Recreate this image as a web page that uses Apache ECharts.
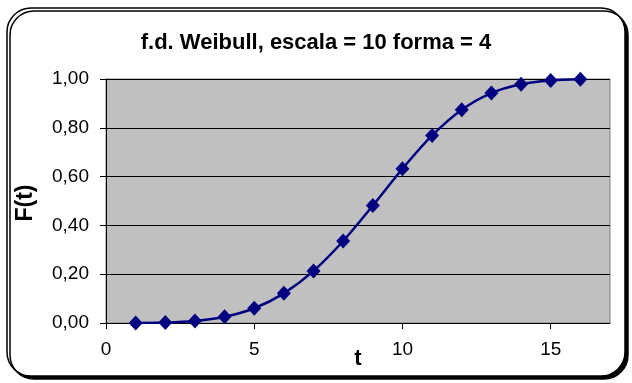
<!DOCTYPE html>
<html>
<head>
<meta charset="utf-8">
<script src="https://cdn.jsdelivr.net/npm/echarts@6/dist/echarts.min.js"></script>
<style>html,body{margin:0;padding:0;background:#fff}#c{width:632px;height:383px}</style>
</head>
<body>
<div id="c"></div>
<script>
const tValues = [1,2,3,4,5,6,7,8,9,10,11,12,13,14,15,16];
const fValues = [0.0001,0.0016,0.0081,0.0253,0.0606,0.1216,0.2134,0.3361,0.4811,0.6321,0.7687,0.8743,0.9425,0.9785,0.9937,0.9986];
const titleText = 'f.d. Weibull, escala = 10 forma = 4';
const xName = 't';
const yName = 'F(t)';

const chart = echarts.init(document.getElementById('c'));
const font = 'Liberation Sans, Arial, sans-serif';
chart.setOption({
  animation: false,
  graphic: [{
    type: 'rect', z: -100,
    shape: {x: 7, y: 8, width: 618, height: 368, r: 24},
    style: {fill: '#fff', stroke: '#000', lineWidth: 1.5, shadowColor: '#000', shadowOffsetX: 3, shadowOffsetY: 3, shadowBlur: 0}
  }, {
    type: 'text', x: 358, y: 359,
    style: {text: xName, font: 'bold 22px ' + font, fill: '#000', align: 'center', verticalAlign: 'middle'}
  }, {
    type: 'text', x: 26, y: 203, rotation: Math.PI / 2,
    style: {text: yName, font: 'bold 23px ' + font, fill: '#000', align: 'center', verticalAlign: 'middle'}
  }],
  title: {
    text: titleText, left: 'center', top: 27,
    textStyle: {fontFamily: font, fontWeight: 'bold', fontSize: 22, color: '#000'}
  },
  grid: {
    left: 106, right: 22, top: 79, bottom: 60,
    show: true, backgroundColor: '#C0C0C0', borderColor: '#808080', borderWidth: 1
  },
  xAxis: {
    type: 'value', min: 0, max: 17, interval: 5,
    axisLine: {show: true, onZero: false, lineStyle: {color: '#000', width: 1}},
    axisTick: {show: true, length: 6, lineStyle: {color: '#000'}},
    axisLabel: {fontFamily: font, fontSize: 19, color: '#000', margin: 17, showMaxLabel: false},
    splitLine: {show: false}
  },
  yAxis: {
    type: 'value', min: 0, max: 1, interval: 0.2,
    axisLine: {show: true, lineStyle: {color: '#000', width: 1}},
    axisTick: {show: true, length: 6, lineStyle: {color: '#000'}},
    axisLabel: {fontFamily: font, fontSize: 19, color: '#000', margin: 17,
      formatter: v => v.toFixed(2).replace('.', ',')},
    splitLine: {show: true, lineStyle: {color: '#000', width: 1}}
  },
  series: [{
    type: 'line',
    data: tValues.map((t, i) => [t, fValues[i]]),
    smooth: 0.3,
    symbol: 'diamond', symbolSize: [14, 15],
    itemStyle: {color: '#000080'},
    lineStyle: {color: '#000080', width: 2.5}
  }]
});
</script>
</body>
</html>
